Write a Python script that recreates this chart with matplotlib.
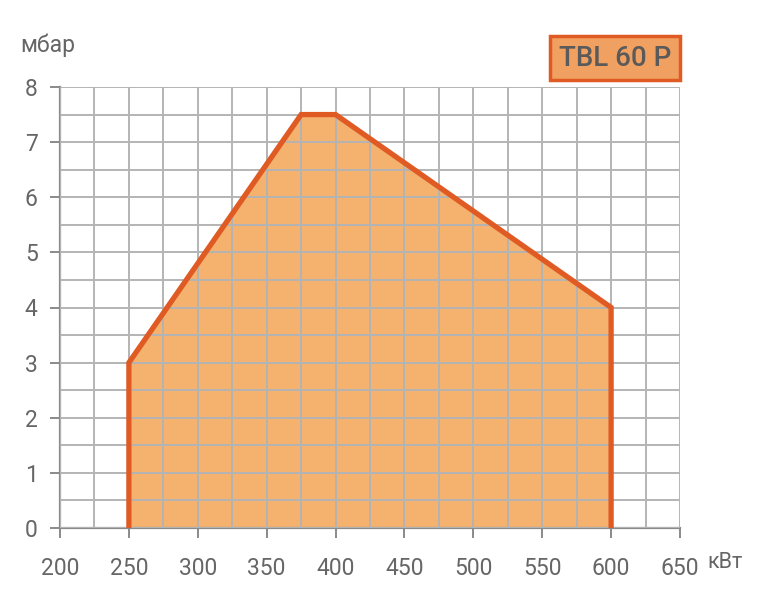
import matplotlib
matplotlib.use("Agg")
import matplotlib.pyplot as plt
from matplotlib.ticker import MultipleLocator

# Data
power_kw = [250, 250, 375, 400, 600, 600]
pressure_mbar = [0, 3, 7.5, 7.5, 4, 0]
x_ticks = [200, 250, 300, 350, 400, 450, 500, 550, 600, 650]
y_ticks = [0, 1, 2, 3, 4, 5, 6, 7, 8]
title = "TBL 60 P"

plt.rcParams['font.family'] = ['Roboto', 'DejaVu Sans']
txt = '#666666'
grid_c = '#b4b4b4'
spine_c = '#8a8a8a'
line_c = '#e05a24'
fill_c = '#f4b26e'

fig = plt.figure(figsize=(7.71, 6), dpi=100)
ax = fig.add_axes([60/771, 1-528/600, 620/771, 441/600])
ax.set_xlim(200, 650)
ax.set_ylim(0, 8)

ax.fill(power_kw, pressure_mbar, color=fill_c, zorder=0.3, lw=0)
ax.plot(power_kw, pressure_mbar, color=line_c, lw=3.8, zorder=3,
        solid_joinstyle='miter', solid_capstyle='butt')

ax.set_xticks(x_ticks)
ax.set_yticks(y_ticks)
ax.xaxis.set_minor_locator(MultipleLocator(25))
ax.yaxis.set_minor_locator(MultipleLocator(0.5))
ax.grid(True, which='both', color=grid_c, lw=1.4, zorder=1)
ax.set_axisbelow(False)
for gl in ax.get_xgridlines() + ax.get_ygridlines():
    gl.set_zorder(1)
ax.xaxis.grid(True, which='minor', color=grid_c, lw=1.4)
ax.yaxis.grid(True, which='minor', color=grid_c, lw=1.4)

for s in ['top', 'right']:
    ax.spines[s].set_visible(False)
for s in ['left', 'bottom']:
    ax.spines[s].set_color(spine_c)
    ax.spines[s].set_linewidth(1.6)
    ax.spines[s].set_zorder(2)

ax.tick_params(axis='both', which='major', colors=spine_c, labelcolor=txt,
               labelsize=16.5, length=7, width=1.4)
ax.tick_params(axis='y', pad=9)
ax.tick_params(axis='x', pad=14)
ax.tick_params(which='minor', length=0)

fig.text(20/771, 1-45/600, "мбар", color=txt, fontsize=16.5, va='center', ha='left')
fig.text(707/771, 1-562/600, "кВт", color=txt, fontsize=15.5, va='center', ha='left')

fig.text(615/771, 1-58/600, title, color='#5a5a5a', fontsize=20, fontweight='medium',
         ha='center', va='center',
         bbox=dict(boxstyle='square,pad=0.3', facecolor='#f0a060', edgecolor=line_c, lw=2.5))

fig.savefig("out.png", dpi=100)
